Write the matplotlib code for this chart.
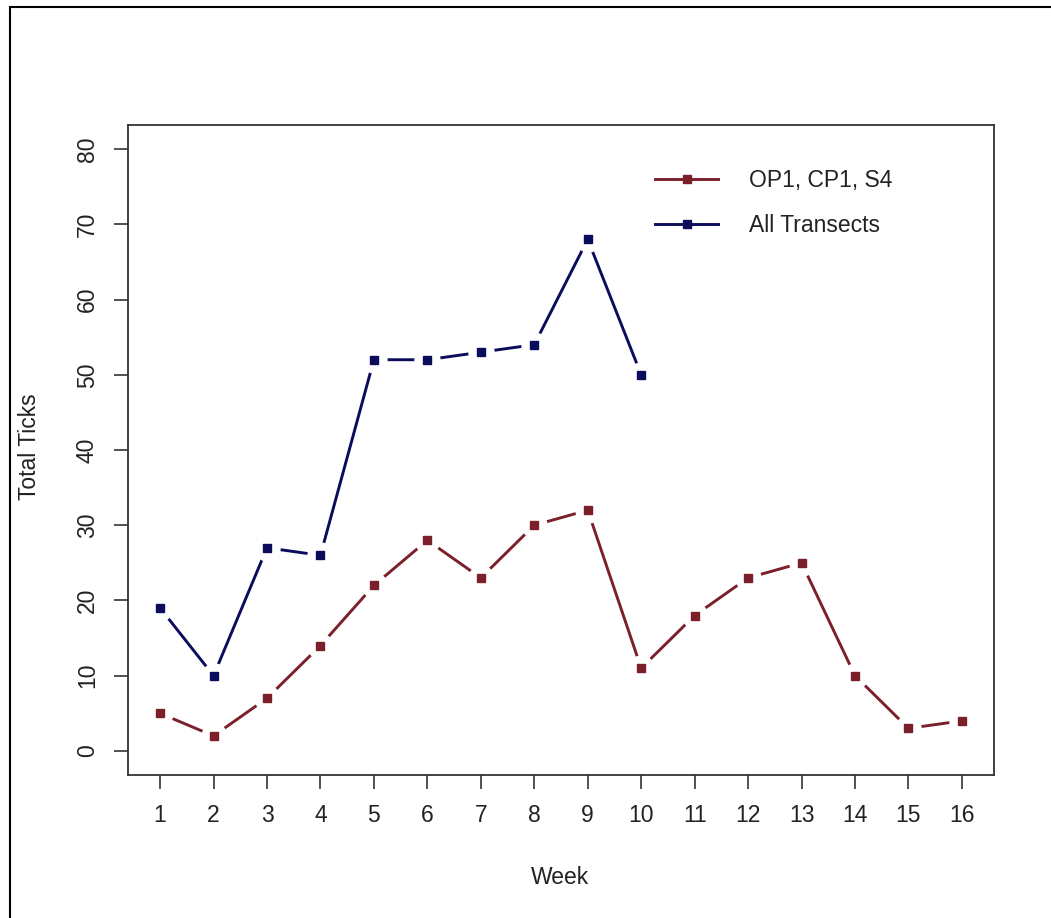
import matplotlib
matplotlib.use("Agg")
import matplotlib.pyplot as plt
from matplotlib.lines import Line2D
from matplotlib.patches import Rectangle

weeks_red = list(range(1, 17))
op1_cp1_s4 = [5, 2, 7, 14, 22, 28, 23, 30, 32, 11, 18, 23, 25, 10, 3, 4]
weeks_blue = list(range(1, 11))
all_transects = [19, 10, 27, 26, 52, 52, 53, 54, 68, 50]
x_ticks = list(range(1, 17))
y_ticks = [0, 10, 20, 30, 40, 50, 60, 70, 80]
series_names = ["OP1, CP1, S4", "All Transects"]

RED = "#7b1f2a"
BLUE = "#0c0c5c"
TXT = "#222222"
FS = 16.5
LW = 2.1

plt.rcParams['font.family'] = ['Liberation Sans', 'DejaVu Sans']

W, H = 1051, 918
fig = plt.figure(figsize=(W / 100, H / 100), dpi=100)
fig.patch.set_facecolor("white")
fig.add_artist(Rectangle((10 / W, -0.01), 1.2, (H - 7) / H + 0.01, transform=fig.transFigure,
                         fill=False, edgecolor="black", linewidth=1.5))

l, r, t, b = 128, 994, 125, 775
ax = fig.add_axes([l / W, 1 - b / H, (r - l) / W, (b - t) / H])

for xs, ys, c in [(weeks_red, op1_cp1_s4, RED), (weeks_blue, all_transects, BLUE)]:
    ax.plot(xs, ys, color=c, linewidth=LW, zorder=2, solid_capstyle='butt')
    ax.plot(xs, ys, linestyle='none', marker='o', markersize=19, markerfacecolor='white',
            markeredgecolor='none', zorder=3)
    ax.plot(xs, ys, linestyle='none', marker='s', markersize=5.2, markerfacecolor=c,
            markeredgecolor=c, zorder=4)

ax.set_xlim(0.4, 16.6)
ax.set_ylim(-3.2, 83.2)
ax.set_xticks(x_ticks)
ax.set_xticklabels([str(v) for v in x_ticks])
ax.set_yticks(y_ticks)
ax.set_yticklabels([str(v) for v in y_ticks], rotation=90, va='center')
ax.tick_params(axis='both', direction='out', length=10, width=1.2, color="#333333",
               labelsize=FS, labelcolor=TXT)
ax.tick_params(axis='x', pad=11)
ax.tick_params(axis='y', pad=11)
for s in ax.spines.values():
    s.set_linewidth(1.3)
    s.set_color("#333333")

fig.text(30 / W, 1 - 447 / H, "Total Ticks", rotation=90, ha='center', va='center',
         fontsize=FS, color=TXT)
fig.text(560 / W, 1 - 877 / H, "Week", ha='center', va='center', fontsize=FS, color=TXT)

handles = [Line2D([0], [0], color=RED, linewidth=LW, marker='s', markersize=5.2,
                  markerfacecolor=RED, markeredgecolor=RED),
           Line2D([0], [0], color=BLUE, linewidth=LW, marker='s', markersize=5.2,
                  markerfacecolor=BLUE, markeredgecolor=BLUE)]
leg = ax.legend(handles, series_names, loc='upper left',
                bbox_to_anchor=((655 - l) / (r - l), 1 - (169 - t) / (b - t)),
                frameon=False, fontsize=FS, handlelength=2.75, handletextpad=1.35,
                labelspacing=0.95, borderpad=0, borderaxespad=0)
for txt in leg.get_texts():
    txt.set_color(TXT)

fig.savefig("out.png", dpi=100, facecolor="white")
